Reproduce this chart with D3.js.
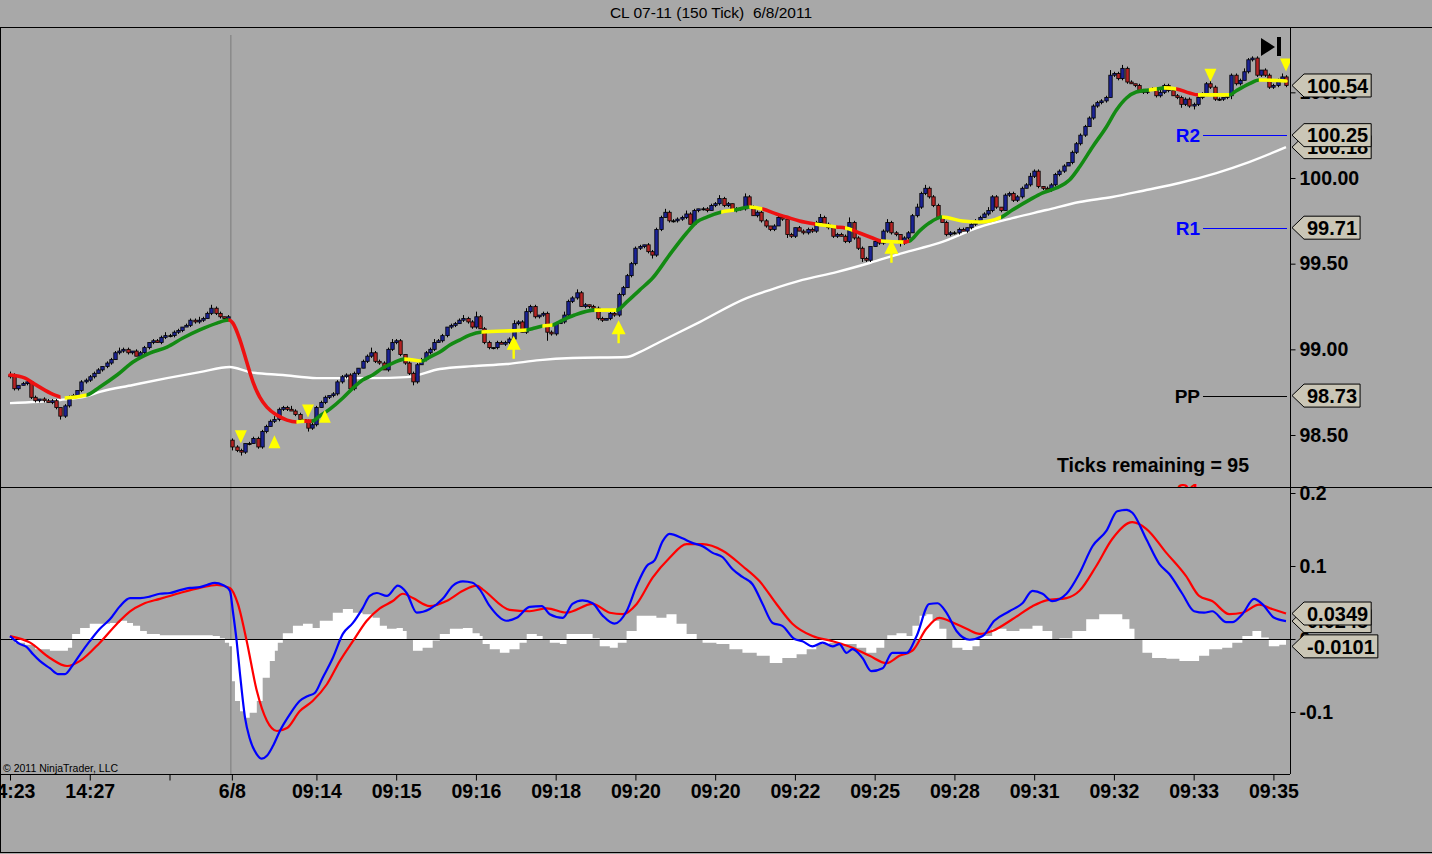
<!DOCTYPE html>
<html lang="en">
<head>
<meta charset="utf-8">
<title>CL 07-11 (150 Tick)</title>
<script src="https://cdn.jsdelivr.net/npm/d3@7"></script>
<style>
  body { margin: 0; background: #a8a8a8; }
  svg { display: block; font-family: "Liberation Sans", Arial, sans-serif; }
</style>
</head>
<body>
<script>
var width = 1432;
var height = 854;

// ---- data ----
var title = "CL 07-11 (150 Tick)  6/8/2011";

// close of every 150 tick bar (open = previous close)
var closes = [
  98.85, 98.77, 98.79, 98.80, 98.81, 98.72, 98.70, 98.71, 98.70, 98.69,
  98.70, 98.66, 98.61, 98.67, 98.72, 98.73, 98.76, 98.81, 98.82, 98.84,
  98.86, 98.88, 98.90, 98.92, 98.94, 98.98, 98.99, 99.00, 98.98, 98.99,
  98.96, 98.98, 99.01, 99.04, 99.05, 99.04, 99.07, 99.08, 99.08, 99.10,
  99.11, 99.13, 99.14, 99.17, 99.16, 99.17, 99.18, 99.21, 99.24, 99.21,
  99.19, 99.18, 99.19, 98.43, 98.41, 98.40, 98.45, 98.45, 98.48, 98.43,
  98.52, 98.55, 98.58, 98.59, 98.65, 98.66, 98.65, 98.64, 98.62, 98.59,
  98.58, 98.54, 98.56, 98.66, 98.69, 98.72, 98.73, 98.74, 98.81, 98.84,
  98.85, 98.77, 98.86, 98.89, 98.93, 98.96, 98.98, 98.93, 98.92, 98.88,
  99.00, 99.04, 99.05, 98.97, 98.92, 98.86, 98.81, 98.91, 98.94, 98.98,
  99.00, 99.04, 99.05, 99.08, 99.13, 99.14, 99.15, 99.17, 99.18, 99.16,
  99.13, 99.19, 99.12, 99.04, 99.01, 99.01, 99.04, 99.03, 99.04, 99.06,
  99.15, 99.16, 99.10, 99.22, 99.25, 99.19, 99.20, 99.21, 99.10, 99.09,
  99.15, 99.16, 99.20, 99.28, 99.30, 99.33, 99.25, 99.26, 99.25, 99.24,
  99.18, 99.17, 99.18, 99.21, 99.20, 99.32, 99.36, 99.43, 99.50, 99.59,
  99.60, 99.61, 99.57, 99.55, 99.70, 99.77, 99.80, 99.75, 99.75, 99.76,
  99.77, 99.79, 99.73, 99.81, 99.82, 99.82, 99.81, 99.84, 99.85, 99.88,
  99.84, 99.85, 99.81, 99.82, 99.82, 99.89, 99.83, 99.78, 99.80, 99.75,
  99.72, 99.70, 99.72, 99.77, 99.76, 99.67, 99.66, 99.71, 99.69, 99.68,
  99.70, 99.69, 99.74, 99.77, 99.73, 99.71, 99.66, 99.67, 99.66, 99.63,
  99.74, 99.65, 99.59, 99.53, 99.52, 99.60, 99.63, 99.62, 99.69, 99.74,
  99.68, 99.67, 99.62, 99.65, 99.68, 99.78, 99.83, 99.91, 99.94, 99.89,
  99.84, 99.77, 99.74, 99.67, 99.68, 99.68, 99.70, 99.69, 99.71, 99.73,
  99.75, 99.77, 99.79, 99.81, 99.89, 99.83, 99.81, 99.90, 99.91, 99.87,
  99.89, 99.94, 99.96, 100.01, 100.04, 99.95, 99.94, 99.93, 99.96, 100.02,
  100.04, 100.07, 100.09, 100.15, 100.20, 100.25, 100.30, 100.35, 100.42, 100.44,
  100.45, 100.47, 100.60, 100.61, 100.58, 100.64, 100.56, 100.55, 100.54, 100.51,
  100.50, 100.51, 100.52, 100.48, 100.50, 100.54, 100.51, 100.48, 100.47, 100.43,
  100.46, 100.42, 100.43, 100.47, 100.48, 100.55, 100.53, 100.46, 100.46, 100.47,
  100.48, 100.60, 100.55, 100.57, 100.62, 100.69, 100.70, 100.60, 100.63, 100.60,
  100.53, 100.54, 100.57, 100.59, 100.54
];
var firstOpen = 98.84;
var sessionStart = 53;     // first bar of 6/8
var sessionOpen = 98.47;

// wick length above / below the body, in cents
var upWick = [
  2,1,0,1,1,1,1,0,1,1,1,1,0,1,1,1,0,1,1,1,
  1,1,0,1,1,1,2,1,1,0,1,1,1,0,1,1,1,2,1,1,
  1,0,1,1,1,2,1,1,2,1,1,0,1,1,1,1,0,1,1,1,
  1,1,1,2,1,1,1,2,1,1,0,1,1,1,1,1,0,1,1,1,
  1,1,1,0,1,1,3,1,1,1,1,2,1,1,0,1,1,1,1,1,
  1,2,1,1,0,1,1,1,2,1,1,3,1,1,1,0,1,1,1,1,
  2,1,1,2,1,1,0,1,1,1,1,1,2,1,1,2,1,1,0,1,
  1,1,0,1,1,1,1,1,1,1,1,0,1,1,1,1,2,1,1,1,
  1,2,1,1,0,1,1,1,1,2,1,1,0,1,1,2,1,1,1,1,
  1,0,1,1,1,1,1,0,1,1,1,1,1,2,1,1,0,1,1,1,
  3,1,1,1,1,0,1,1,1,2,1,1,0,1,1,1,2,1,2,1,
  1,1,0,1,1,1,1,1,0,1,1,1,1,2,1,1,0,1,1,1,
  1,1,1,2,1,1,0,1,1,1,1,1,0,1,1,1,1,1,1,1,
  1,1,3,1,1,2,1,1,0,1,1,1,1,1,2,1,1,0,1,1,
  1,1,1,1,2,1,2,1,1,0,1,1,1,1,2,1,1,1,0,1,
  1,1,1,2,1
];
var downWick = [
  1,1,1,0,1,1,1,1,1,0,1,1,2,1,1,0,1,1,1,1,
  1,0,1,1,1,0,1,1,1,1,0,1,1,1,1,0,1,1,1,1,
  1,1,0,1,1,1,1,0,1,1,1,1,0,2,1,2,1,1,0,1,
  1,1,0,1,1,1,1,0,1,1,1,2,1,1,0,1,1,1,1,1,
  1,2,1,1,0,1,1,1,1,0,1,1,1,1,1,1,2,1,0,1,
  1,1,0,1,1,1,1,0,1,1,1,1,0,1,1,1,1,0,1,1,
  1,1,0,1,1,1,1,1,5,1,1,0,1,1,1,1,0,1,1,1,
  1,1,0,1,1,1,1,0,1,1,1,1,1,2,1,1,0,1,1,1,
  1,1,0,1,1,1,1,0,1,1,1,1,0,1,1,1,1,0,1,1,
  1,1,1,0,1,2,1,1,0,1,1,1,1,0,1,1,1,1,0,1,
  1,1,1,2,1,1,0,1,1,1,1,1,2,1,1,0,1,1,1,1,
  1,1,0,1,1,1,1,0,1,1,1,1,0,1,1,1,1,0,1,1,
  1,1,0,1,1,1,1,0,1,1,1,1,0,1,1,1,1,0,1,1,
  1,1,0,1,1,1,1,0,1,1,1,1,0,1,1,1,1,0,1,2,
  1,1,2,1,1,0,1,1,1,1,1,2,1,1,0,1,1,1,1,1,
  1,1,1,0,1
];

// fast moving average: [bar, price, slope state]
var maPoints = [
  [0, 98.850, "dn"], [3.6, 98.832, "dn"], [5.5, 98.803, "dn"], [8.3, 98.762, "dn"],
  [10.7, 98.733, "dn"], [13.1, 98.716, "flat"], [18.3, 98.733, "up"], [21.4, 98.780, "up"],
  [25.5, 98.850, "up"], [29.3, 98.926, "up"], [33.3, 98.978, "up"], [37.4, 99.013, "up"],
  [41.2, 99.066, "up"], [45.2, 99.113, "up"], [49.3, 99.153, "up"], [52.1, 99.171, "dn"],
  [53.1, 99.153, "dn"], [54.8, 99.054, "dn"], [56.4, 98.926, "dn"], [57.9, 98.809, "dn"],
  [59.5, 98.721, "dn"], [61.2, 98.663, "dn"], [63.6, 98.616, "dn"], [66.0, 98.587, "dn"],
  [68.3, 98.576, "flat"], [70.2, 98.581, "dn"], [71.9, 98.581, "up"], [73.8, 98.611, "up"],
  [76.2, 98.651, "up"], [79.3, 98.716, "up"], [81.7, 98.774, "up"], [84.0, 98.821, "up"],
  [86.4, 98.850, "up"], [88.8, 98.891, "up"], [91.2, 98.920, "up"], [94.0, 98.943, "flat"],
  [98.1, 98.932, "up"], [100.0, 98.955, "up"], [102.4, 98.984, "up"], [104.8, 99.025, "up"],
  [107.1, 99.054, "up"], [109.5, 99.083, "up"], [112.4, 99.101, "flat"], [123.1, 99.113, "up"],
  [125.0, 99.124, "up"], [126.9, 99.136, "flat"], [129.3, 99.142, "up"], [131.7, 99.171, "up"],
  [134.5, 99.200, "up"], [139.3, 99.229, "flat"], [144.5, 99.229, "up"], [146.9, 99.276, "up"],
  [150.0, 99.346, "up"], [153.1, 99.416, "up"], [157.1, 99.550, "up"], [161.2, 99.679, "up"],
  [163.6, 99.743, "up"], [166.0, 99.772, "up"], [169.5, 99.802, "flat"], [172.6, 99.813, "up"],
  [176.2, 99.831, "flat"], [179.3, 99.819, "dn"], [182.6, 99.790, "dn"], [185.0, 99.772, "dn"],
  [188.1, 99.749, "dn"], [191.9, 99.731, "flat"], [196.9, 99.714, "dn"], [199.0, 99.708, "flat"],
  [200.7, 99.696, "dn"], [202.4, 99.679, "dn"], [205.5, 99.650, "dn"], [207.6, 99.632, "flat"],
  [212.9, 99.626, "dn"], [214.3, 99.632, "up"], [216.7, 99.691, "up"], [219.0, 99.737, "up"],
  [222.1, 99.772, "flat"], [226.9, 99.749, "flat"], [231.0, 99.743, "flat"], [236.2, 99.772, "up"],
  [238.8, 99.813, "up"], [242.9, 99.872, "up"], [245.9, 99.912, "up"], [249.3, 99.942, "up"],
  [252.4, 99.988, "up"], [254.8, 100.064, "up"], [257.9, 100.181, "up"], [261.2, 100.298, "up"],
  [263.6, 100.397, "up"], [266.0, 100.467, "up"], [268.3, 100.502, "up"], [271.4, 100.514, "flat"],
  [273.3, 100.520, "up"], [275.0, 100.526, "flat"], [277.9, 100.520, "dn"], [281.0, 100.496, "dn"],
  [283.1, 100.485, "flat"], [290.5, 100.485, "up"], [292.1, 100.508, "up"], [295.2, 100.549, "up"],
  [297.6, 100.572, "flat"], [304, 100.566, "flat"]
];

// slow moving average (white)
var smaPoints = [
  [0, 98.686], [11.9, 98.704], [18.3, 98.727], [21.4, 98.752], [29.3, 98.792], [37.4, 98.832],
  [45.2, 98.867], [52.4, 98.897], [57.1, 98.867], [65.0, 98.850], [73.1, 98.832], [86.4, 98.832],
  [94.5, 98.838], [102.4, 98.885], [110.2, 98.902], [118.3, 98.914], [126.2, 98.937], [134.0, 98.949],
  [146.9, 98.955], [150.0, 98.984], [154.8, 99.043], [164.3, 99.159], [175.5, 99.299], [181.0, 99.346],
  [188.8, 99.405], [196.9, 99.451], [204.8, 99.504], [212.6, 99.562], [221.4, 99.621], [231.0, 99.714],
  [238.8, 99.766], [246.9, 99.813], [254.8, 99.860], [262.6, 99.889], [270.7, 99.930], [278.6, 99.971],
  [287.4, 100.029], [295.2, 100.093], [304, 100.18]
];

// MACD panel
var macdPoints = [
  [0, 0.004], [2.4, -0.007], [4.0, -0.011], [5.5, -0.021], [7.1, -0.030], [9.5, -0.040],
  [11.4, -0.048], [13.1, -0.048], [14.8, -0.037], [16.7, -0.021], [19.0, -0.003], [21.4, 0.014],
  [23.8, 0.027], [26.2, 0.045], [28.6, 0.056], [31.0, 0.056], [33.3, 0.058], [35.7, 0.062],
  [38.1, 0.063], [40.5, 0.067], [42.9, 0.070], [45.2, 0.071], [46.9, 0.074], [48.8, 0.077],
  [50.7, 0.074], [52.4, 0.066], [53.1, 0.038], [54.0, -0.003], [54.8, -0.048], [56.0, -0.108],
  [57.1, -0.136], [58.8, -0.158], [60.0, -0.164], [61.2, -0.160], [62.6, -0.147], [64.3, -0.126],
  [66.7, -0.103], [69.0, -0.085], [71.0, -0.078], [72.6, -0.074], [74.5, -0.053], [76.9, -0.026],
  [79.3, 0.007], [81.7, 0.022], [84.0, 0.042], [85.7, 0.059], [87.4, 0.063], [89.8, 0.059],
  [92.4, 0.073], [94.5, 0.063], [96.9, 0.036], [100.0, 0.041], [103.1, 0.055], [105.5, 0.073],
  [107.9, 0.079], [110.2, 0.077], [111.9, 0.068], [114.3, 0.045], [118.3, 0.025], [120.7, 0.029],
  [123.8, 0.044], [126.7, 0.045], [128.6, 0.034], [131.7, 0.029], [134.0, 0.048], [136.4, 0.053],
  [138.8, 0.049], [141.2, 0.032], [144.0, 0.021], [146.9, 0.038], [149.3, 0.073], [151.7, 0.100],
  [153.6, 0.108], [155.5, 0.134], [157.1, 0.144], [160.2, 0.138], [162.4, 0.132], [165.0, 0.127],
  [167.4, 0.118], [169.8, 0.112], [172.1, 0.096], [174.5, 0.085], [176.9, 0.075], [179.3, 0.048],
  [181.7, 0.022], [184.0, 0.018], [186.9, 0.000], [188.8, -0.003], [191.2, -0.010], [193.6, -0.005],
  [196.0, -0.010], [197.6, -0.007], [199.3, -0.019], [200.7, -0.014], [203.1, -0.026], [205.2, -0.044],
  [207.9, -0.040], [210.2, -0.019], [213.6, -0.019], [216.0, 0.004], [219.0, 0.048], [221.0, 0.049],
  [223.1, 0.036], [225.5, 0.011], [228.6, -0.001], [231.7, 0.004], [234.5, 0.025], [238.1, 0.038],
  [241.2, 0.049], [243.6, 0.066], [246.0, 0.062], [248.3, 0.052], [251.7, 0.062], [254.8, 0.090],
  [257.9, 0.127], [261.2, 0.148], [263.8, 0.175], [266.0, 0.177], [267.4, 0.173], [270.7, 0.137],
  [273.8, 0.103], [276.2, 0.089], [279.3, 0.062], [282.1, 0.038], [284.5, 0.036], [286.4, 0.038],
  [289.8, 0.023], [291.2, 0.023], [293.6, 0.034], [296.4, 0.055], [298.3, 0.048], [301.2, 0.029],
  [304, 0.0245]
];
var signalPoints = [
  [0, 0.004], [4.8, -0.005], [9.5, -0.026], [13.6, -0.037], [16.7, -0.030], [21.4, -0.005],
  [25.5, 0.021], [28.6, 0.038], [31.7, 0.048], [35.7, 0.055], [40.5, 0.063], [45.2, 0.070],
  [49.3, 0.074], [52.4, 0.070], [54.3, 0.048], [56.4, -0.003], [58.8, -0.071], [61.2, -0.112],
  [63.6, -0.126], [66.0, -0.122], [69.0, -0.099], [72.1, -0.085], [75.5, -0.062], [78.6, -0.030],
  [81.7, -0.003], [85.0, 0.025], [88.1, 0.042], [91.2, 0.052], [93.6, 0.062], [96.0, 0.056],
  [100.0, 0.045], [104.0, 0.052], [107.9, 0.066], [111.2, 0.073], [112.6, 0.068], [119.0, 0.040],
  [123.8, 0.038], [127.9, 0.042], [132.6, 0.036], [138.8, 0.048], [142.9, 0.036], [146.0, 0.034],
  [149.3, 0.048], [153.1, 0.084], [157.1, 0.111], [161.2, 0.130], [165.0, 0.130], [169.8, 0.121],
  [174.5, 0.100], [178.6, 0.079], [182.6, 0.048], [186.4, 0.021], [191.2, 0.004], [196.0, -0.003],
  [200.7, -0.012], [204.8, -0.023], [208.8, -0.033], [211.9, -0.023], [215.0, -0.016], [218.3, 0.014],
  [221.4, 0.029], [224.5, 0.023], [227.9, 0.014], [231.0, 0.007], [234.0, 0.011], [238.8, 0.027],
  [243.6, 0.045], [246.9, 0.053], [251.7, 0.056], [254.8, 0.066], [258.8, 0.100], [262.6, 0.137],
  [267.4, 0.160], [270.7, 0.151], [275.5, 0.118], [280.2, 0.086], [283.3, 0.059], [286.4, 0.052],
  [290.5, 0.034], [293.6, 0.036], [297.6, 0.047], [300.7, 0.041], [304, 0.0349]
];
var histPoints = [
  [0, 0.002], [1.2, -0.005], [3.6, -0.008], [6.0, -0.014], [9.5, -0.016], [11.9, -0.016],
  [13.8, -0.012], [14.8, 0.007], [16.7, 0.015], [19.0, 0.021], [21.4, 0.021], [23.8, 0.022],
  [26.2, 0.025], [27.9, 0.022], [29.3, 0.018], [31.0, 0.011], [32.6, 0.007], [35.7, 0.005],
  [40.5, 0.005], [45.2, 0.005], [48.3, 0.004], [50.0, 0.001], [51.2, -0.005], [52.2, -0.010],
  [52.9, -0.058], [53.6, -0.085], [54.8, -0.099], [56.0, -0.108], [57.1, -0.101], [58.8, -0.085],
  [60.2, -0.053], [61.9, -0.030], [63.1, -0.016], [63.8, -0.005], [65.0, 0.008], [67.4, 0.018],
  [69.8, 0.021], [72.1, 0.015], [73.8, 0.025], [76.9, 0.036], [79.3, 0.041], [81.7, 0.036],
  [84.0, 0.034], [86.4, 0.029], [88.1, 0.018], [89.8, 0.014], [92.1, 0.015], [93.6, 0.011],
  [94.5, 0.000], [96.0, -0.016], [98.3, -0.012], [100.7, -0.002], [102.4, 0.007], [104.8, 0.014],
  [107.9, 0.015], [110.2, 0.008], [111.9, 0.004], [112.6, -0.007], [114.3, -0.014], [116.7, -0.019],
  [119.0, -0.014], [121.4, -0.005], [123.1, 0.007], [125.5, 0.004], [126.9, 0.000], [128.6, -0.005],
  [131.0, -0.007], [132.6, 0.007], [135.0, 0.007], [137.4, 0.007], [138.8, 0.001], [140.5, -0.010],
  [142.9, -0.012], [144.8, -0.005], [146.9, 0.011], [149.3, 0.032], [151.7, 0.032], [154.0, 0.029],
  [156.4, 0.034], [158.8, 0.021], [161.2, 0.007], [163.6, 0.000], [165.0, -0.005], [168.3, -0.007],
  [171.4, -0.014], [174.5, -0.019], [177.9, -0.023], [181.0, -0.033], [184.0, -0.026], [187.4, -0.021],
  [189.8, -0.014], [192.1, -0.007], [195.2, -0.005], [198.3, -0.007], [201.7, -0.012], [204.0, -0.019],
  [206.4, -0.012], [208.3, 0.000], [209.0, 0.005], [211.2, 0.008], [213.6, 0.004], [215.0, 0.018],
  [216.7, 0.032], [218.3, 0.034], [219.8, 0.025], [221.4, 0.014], [223.1, 0.000], [224.5, -0.012],
  [226.9, -0.015], [229.3, -0.010], [231.0, 0.004], [234.0, 0.014], [237.4, 0.011], [240.5, 0.014],
  [243.6, 0.018], [246.0, 0.011], [248.3, 0.000], [250.0, 0.001], [253.1, 0.011], [256.4, 0.027],
  [259.5, 0.034], [262.6, 0.034], [265.0, 0.027], [266.7, 0.014], [267.9, 0.000], [269.8, -0.019],
  [272.1, -0.026], [275.5, -0.027], [278.6, -0.030], [281.0, -0.030], [283.3, -0.023], [285.7, -0.014],
  [288.8, -0.012], [291.2, -0.005], [293.6, 0.004], [296.0, 0.011], [298.1, 0.002], [299.9, -0.010],
  [302.4, -0.008], [304, -0.0101]
];

// signals
var downTriangles = [[55, 98.49], [71, 98.64], [286, 100.60], [304, 100.66]];
var upTriangles = [[63, 98.46], [75, 98.61]];
var upArrows = [[120, 99.08], [145, 99.17], [210, 99.64]];

// floor pivots
var pivots = [
  {name: "R2", value: 100.25},
  {name: "R1", value: 99.71},
  {name: "PP", value: 98.73},
  {name: "S1", value: 98.18}
];

var ticksRemaining = 95;
var priceTicks = [98.5, 99.0, 99.5, 100.0, 100.5];
var macdTicks = [-0.1, 0, 0.1, 0.2];
var timeTickBars = [0, 19, 38, 53, 73, 92, 111, 130, 149, 168, 187, 206, 225, 244, 263, 282, 301];
var timeTickLabels = ["14:23", "14:27", "", "6/8", "09:14", "09:15", "09:16", "09:18", "09:20",
                      "09:20", "09:22", "09:25", "09:28", "09:31", "09:32", "09:33", "09:35"];

// ---- drawing ----
var bg = "#a8a8a8";
var upColor = "#1c2496";
var downColor = "#b42424";
var trendColor = {up: "#138a13", dn: "#ee1111", flat: "#ffff00"};
var pivotColor = {R: "#0000ff", P: "#000000", S: "#ff0000"};
var badgeFill = "#cac6b6";

var plotRight = 1290;
var priceTop = 28, priceBottom = 487, macdBottom = 774;

var svg = d3.select("body").append("svg")
  .attr("width", width)
  .attr("height", height);

svg.append("rect").attr("width", width).attr("height", height).attr("fill", bg);

var defs = svg.append("defs");
defs.append("clipPath").attr("id", "pricePanel").append("rect")
  .attr("x", 1).attr("y", priceTop).attr("width", plotRight - 1).attr("height", priceBottom - priceTop);
defs.append("clipPath").attr("id", "macdPanel").append("rect")
  .attr("x", 1).attr("y", priceBottom + 1).attr("width", plotRight - 1).attr("height", macdBottom - priceBottom - 1);

var x = d3.scaleLinear().domain([0, closes.length - 1]).range([10, 1286]);
var yP = d3.scaleLinear().domain([98.5, 100]).range([435, 178]);
var yM = d3.scaleLinear().domain([-0.1, 0.2]).range([712, 493]);

// title
svg.append("text")
  .attr("x", 711).attr("y", 13).attr("dy", "0.35em")
  .attr("text-anchor", "middle")
  .style("font-size", "15.5px")
  .style("white-space", "pre")
  .text(title);

// session break
svg.append("line")
  .attr("x1", x(sessionStart - 0.5) + 0.5).attr("x2", x(sessionStart - 0.5) + 0.5)
  .attr("y1", 35).attr("y2", macdBottom)
  .attr("stroke", "#7a7a7a").attr("stroke-width", 1);

// ---- price panel ----
var price = svg.append("g").attr("clip-path", "url(#pricePanel)");

// slow average
var smaLine = d3.line()
  .x(function(d) { return x(d[0]); })
  .y(function(d) { return yP(d[1]); })
  .curve(d3.curveMonotoneX);
price.append("path")
  .attr("d", smaLine(smaPoints))
  .attr("fill", "none").attr("stroke", "#ffffff").attr("stroke-width", 2.4);

// candles
var candles = closes.map(function(c, i) {
  var o = i == 0 ? firstOpen : (i == sessionStart ? sessionOpen : closes[i - 1]);
  return {
    i: i, o: o, c: c,
    h: Math.max(o, c) + upWick[i] / 100,
    l: Math.min(o, c) - downWick[i] / 100
  };
});

var cg = price.selectAll("g.candle").data(candles).enter().append("g").attr("class", "candle");
cg.append("line")
  .attr("x1", function(d) { return Math.round(x(d.i)) + 0.5; })
  .attr("x2", function(d) { return Math.round(x(d.i)) + 0.5; })
  .attr("y1", function(d) { return yP(d.h); })
  .attr("y2", function(d) { return yP(d.l); })
  .attr("stroke", "#000").attr("stroke-width", 1);
cg.append("rect")
  .attr("x", function(d) { return Math.round(x(d.i)) - 1.2; })
  .attr("width", 3.4)
  .attr("y", function(d) { return yP(Math.max(d.o, d.c)); })
  .attr("height", function(d) { return Math.max(1, yP(Math.min(d.o, d.c)) - yP(Math.max(d.o, d.c))); })
  .attr("fill", function(d) { return d.c > d.o ? upColor : (d.c < d.o ? downColor : "#000"); })
  .attr("stroke", "#000").attr("stroke-width", 0.8);

// fast average, coloured by slope
var maLine = d3.line()
  .x(function(d) { return x(d[0]); })
  .y(function(d) { return yP(d[1]); })
  .curve(d3.curveMonotoneX);
var runs = [];
for (var i = 0; i < maPoints.length - 1; i++) {
  var t = maPoints[i][2];
  if (runs.length && runs[runs.length - 1].trend == t) runs[runs.length - 1].end = i + 1;
  else runs.push({trend: t, start: i, end: i + 1});
}
var maPath = maLine(maPoints);
runs.forEach(function(r, k) {
  var x0 = x(maPoints[r.start][0]), x1 = x(maPoints[r.end][0]);
  defs.append("clipPath").attr("id", "ma" + k).append("rect")
    .attr("x", x0 - (k == 0 ? 5 : 0.3)).attr("width", x1 - x0 + 0.6 + (k == runs.length - 1 ? 5 : 0))
    .attr("y", 0).attr("height", height);
  price.append("g").attr("clip-path", "url(#ma" + k + ")")
    .append("path")
    .attr("d", maPath)
    .attr("fill", "none")
    .attr("stroke", trendColor[r.trend])
    .attr("stroke-width", 3.6)
    .attr("stroke-linecap", "round");
});

// signal markers
var tri = 6.5;
price.selectAll("path.dn").data(downTriangles).enter().append("path")
  .attr("d", function(d) {
    var cx = x(d[0]), cy = yP(d[1]);
    return "M" + (cx - 6) + "," + (cy - tri) + "L" + (cx + 6) + "," + (cy - tri) + "L" + cx + "," + (cy + tri) + "Z";
  })
  .attr("fill", "#ffff00");
price.selectAll("path.up").data(upTriangles).enter().append("path")
  .attr("d", function(d) {
    var cx = x(d[0]), cy = yP(d[1]);
    return "M" + (cx - 6) + "," + (cy + tri) + "L" + (cx + 6) + "," + (cy + tri) + "L" + cx + "," + (cy - tri) + "Z";
  })
  .attr("fill", "#ffff00");
price.selectAll("path.arrow").data(upArrows).enter().append("path")
  .attr("d", function(d) {
    var cx = x(d[0]), ty = yP(d[1]);
    return "M" + cx + "," + ty + "L" + (cx + 7) + "," + (ty + 14) + "L" + (cx + 1.2) + "," + (ty + 14) +
      "L" + (cx + 1.2) + "," + (ty + 23) + "L" + (cx - 1.2) + "," + (ty + 23) + "L" + (cx - 1.2) + "," + (ty + 14) +
      "L" + (cx - 7) + "," + (ty + 14) + "Z";
  })
  .attr("fill", "#ffff00");

// pivot lines
pivots.forEach(function(p) {
  var col = pivotColor[p.name[0]];
  var yy = Math.round(yP(p.value)) + 0.5;
  price.append("line")
    .attr("x1", 1203).attr("x2", 1287).attr("y1", yy).attr("y2", yy)
    .attr("stroke", col).attr("stroke-width", 1);
  price.append("text")
    .attr("x", 1200).attr("y", yy).attr("dy", "0.36em")
    .attr("text-anchor", "end")
    .attr("fill", col)
    .style("font-size", "19px").style("font-weight", "bold")
    .text(p.name);
});

price.append("text")
  .attr("x", 1057).attr("y", 465).attr("dy", "0.36em")
  .style("font-size", "19.5px").style("font-weight", "bold")
  .text("Ticks remaining = " + ticksRemaining);

// go-to-last-bar button
svg.append("path").attr("d", "M1261,38L1275,47L1261,56Z").attr("fill", "#000");
svg.append("rect").attr("x", 1277).attr("y", 37).attr("width", 4).attr("height", 19).attr("fill", "#000");

// ---- MACD panel ----
var macd = svg.append("g").attr("clip-path", "url(#macdPanel)");

var histArea = d3.area()
  .x(function(d) { return x(d[0]); })
  .y0(yM(0))
  .y1(function(d) { return yM(d[1]); })
  .curve(d3.curveStepAfter);
macd.append("path").attr("d", histArea(histPoints)).attr("fill", "#ffffff");

macd.append("line")
  .attr("x1", 0).attr("x2", plotRight).attr("y1", Math.round(yM(0)) + 0.5).attr("y2", Math.round(yM(0)) + 0.5)
  .attr("stroke", "#000").attr("stroke-width", 1);

var mLine = d3.line()
  .x(function(d) { return x(d[0]); })
  .y(function(d) { return yM(d[1]); })
  .curve(d3.curveMonotoneX);
macd.append("path").attr("d", mLine(signalPoints))
  .attr("fill", "none").attr("stroke", "#ff0000").attr("stroke-width", 2.2);
macd.append("path").attr("d", mLine(macdPoints))
  .attr("fill", "none").attr("stroke", "#0000ff").attr("stroke-width", 2.2);

svg.append("text")
  .attr("x", 3).attr("y", 768).attr("dy", "0.35em")
  .style("font-size", "10.5px")
  .text("\u00a9 2011 NinjaTrader, LLC");

// ---- frame ----
svg.append("line").attr("x1", 0).attr("x2", width).attr("y1", 27.5).attr("y2", 27.5).attr("stroke", "#000");
svg.append("line").attr("x1", 0).attr("x2", width).attr("y1", priceBottom + 0.5).attr("y2", priceBottom + 0.5).attr("stroke", "#000");
svg.append("line").attr("x1", plotRight + 0.5).attr("x2", plotRight + 0.5).attr("y1", priceTop).attr("y2", macdBottom).attr("stroke", "#000");
svg.append("line").attr("x1", 0).attr("x2", plotRight).attr("y1", macdBottom + 0.5).attr("y2", macdBottom + 0.5).attr("stroke", "#000");
svg.append("line").attr("x1", 0.5).attr("x2", 0.5).attr("y1", 27).attr("y2", 853).attr("stroke", "#000");
svg.append("line").attr("x1", 0).attr("x2", width).attr("y1", 852.5).attr("y2", 852.5).attr("stroke", "#000");

// ---- axes ----
function styleAxis(g) {
  g.select(".domain").remove();
  g.selectAll("line").attr("stroke", "#000");
  g.selectAll("text")
    .attr("fill", "#000")
    .style("font-family", "'Liberation Sans', Arial, sans-serif")
    .style("font-size", "19.5px")
    .style("font-weight", "bold");
}

var pAxis = svg.append("g")
  .attr("transform", "translate(" + (plotRight + 0.5) + ",0)")
  .call(d3.axisRight(yP).tickValues(priceTicks).tickSize(5).tickPadding(4).tickFormat(d3.format(".2f")));
styleAxis(pAxis);

var mAxis = svg.append("g")
  .attr("transform", "translate(" + (plotRight + 0.5) + ",0)")
  .call(d3.axisRight(yM).tickValues(macdTicks).tickSize(5).tickPadding(4)
    .tickFormat(function(d) { return d == 0 ? "0" : d.toFixed(1); }));
styleAxis(mAxis);

var tAxis = svg.append("g")
  .attr("transform", "translate(0," + (macdBottom + 0.5) + ")")
  .call(d3.axisBottom(x).tickValues(timeTickBars).tickSize(6).tickPadding(4)
    .tickFormat(function(d, i) { return timeTickLabels[i]; }));
styleAxis(tAxis);
tAxis.selectAll(".tick").filter(function(d) { return d == sessionStart; })
  .attr("transform", "translate(" + (x(sessionStart - 0.5) + 2) + ",0)");

// ---- value badges on the axis ----
function badge(yy, label) {
  var g = svg.append("g");
  var t = g.append("text")
    .attr("x", 1307).attr("y", yy).attr("dy", "0.36em")
    .style("font-size", "20px").style("font-weight", "bold")
    .text(label);
  var w = t.node().getComputedTextLength();
  g.insert("path", "text")
    .attr("d", "M1292," + yy + "L1304," + (yy - 11.5) + "H" + (1310 + w) + "V" + (yy + 11.5) + "H1304Z")
    .attr("fill", badgeFill).attr("stroke", "#000").attr("stroke-width", 1);
}

var lastSma = smaPoints[smaPoints.length - 1][1];
var lastMacd = macdPoints[macdPoints.length - 1][1];
var lastSignal = signalPoints[signalPoints.length - 1][1];
var lastHist = histPoints[histPoints.length - 1][1];
var lastClose = closes[closes.length - 1];

badge(yP(lastSma), lastSma.toFixed(2));
pivots.forEach(function(p) {
  if (p.value > 98.3) badge(yP(p.value), p.value.toFixed(2));
});
badge(yP(lastClose), lastClose.toFixed(2));

badge(yM(lastMacd), lastMacd.toFixed(4));
badge(yM(lastSignal), lastSignal.toFixed(4));
badge(yM(lastHist), lastHist.toFixed(4));
</script>
</body>
</html>
